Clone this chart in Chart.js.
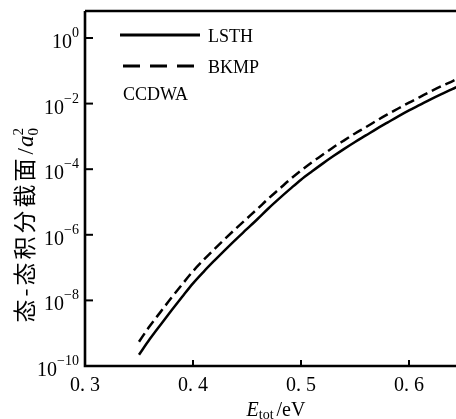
<!DOCTYPE html>
<html>
<head>
<meta charset="utf-8">
<script src="https://cdn.jsdelivr.net/npm/chart.js@4/dist/chart.umd.min.js"></script>
<style>
  html, body { margin: 0; padding: 0; background: #fff; }
  #chartContainer { width: 456px; height: 419px; }
</style>
</head>
<body>
<div id="chartContainer"><canvas id="myChart" width="456" height="419"></canvas></div>
<script>
// values (total energy in eV, cross section in a0^2)
const energy = [0.35, 0.36, 0.37, 0.38, 0.39, 0.40, 0.41, 0.42, 0.43, 0.44, 0.45, 0.46, 0.47, 0.48, 0.49,
  0.50, 0.51, 0.52, 0.53, 0.54, 0.55, 0.56, 0.57, 0.58, 0.59, 0.60, 0.61, 0.62, 0.63, 0.64, 0.645];
const lsth = [2.2e-10, 6.61e-10, 1.82e-9, 4.90e-9, 1.29e-8, 3.31e-8, 7.59e-8, 1.66e-7, 3.55e-7, 7.41e-7,
  1.51e-6, 3.09e-6, 6.46e-6, 1.29e-5, 2.51e-5, 4.79e-5, 8.51e-5, 1.48e-4, 2.51e-4, 4.17e-4,
  6.76e-4, 1.07e-3, 1.70e-3, 2.63e-3, 4.07e-3, 6.17e-3, 9.12e-3, 1.35e-2, 1.95e-2, 2.75e-2, 3.31e-2];
const bkmp = [5.5e-10, 1.66e-9, 4.47e-9, 1.20e-8, 3.09e-8, 7.76e-8, 1.74e-7, 3.72e-7, 7.76e-7, 1.58e-6,
  3.16e-6, 6.31e-6, 1.29e-5, 2.51e-5, 4.90e-5, 9.12e-5, 1.62e-4, 2.75e-4, 4.68e-4, 7.59e-4,
  1.23e-3, 1.91e-3, 3.02e-3, 4.68e-3, 7.08e-3, 1.07e-2, 1.58e-2, 2.34e-2, 3.39e-2, 4.79e-2, 5.75e-2];
const seriesNames = ['LSTH', 'BKMP'];
const xTicks = [0.3, 0.4, 0.5, 0.6];
const xTickLabels = ['0. 3', '0. 4', '0. 5', '0. 6'];
const yTickExps = [0, -2, -4, -6, -8, -10];

const serif = '"Liberation Serif", "Times New Roman", serif';

// axes, ticks, labels and legend are drawn here
const paperPlugin = {
  id: 'paper',
  afterDraw(chart) {
    const ctx = chart.ctx;
    const area = chart.chartArea;
    const xs = chart.scales.x, ys = chart.scales.y;
    ctx.save();
    ctx.strokeStyle = '#000';
    ctx.fillStyle = '#000';
    ctx.lineWidth = 2.6;
    // left axis, bottom axis and top frame
    ctx.beginPath();
    ctx.moveTo(area.left, area.top);
    ctx.lineTo(area.left, area.bottom);
    ctx.lineTo(area.right, area.bottom);
    ctx.moveTo(area.left, area.top);
    ctx.lineTo(area.right, area.top);
    ctx.stroke();

    // x ticks (inside)
    ctx.lineWidth = 2;
    ctx.font = '20px ' + serif;
    ctx.textAlign = 'center';
    ctx.textBaseline = 'alphabetic';
    xTicks.forEach((v, i) => {
      const px = xs.getPixelForValue(v);
      if (i > 0) {
        ctx.beginPath();
        ctx.moveTo(px, area.bottom);
        ctx.lineTo(px, area.bottom - 6);
        ctx.stroke();
      }
      ctx.fillText(xTickLabels[i], px, area.bottom + 25);
    });

    // y ticks (inside) with 10^n labels
    yTickExps.forEach(e => {
      const py = ys.getPixelForValue(Math.pow(10, e));
      if (e !== -10) {
        ctx.beginPath();
        ctx.moveTo(area.left, py);
        ctx.lineTo(area.left + 8, py);
        ctx.stroke();
      }
      const sup = e === 0 ? '0' : '\u2212' + (-e);
      ctx.font = '14px ' + serif;
      const supW = ctx.measureText(sup).width;
      const right = area.left - 6;
      ctx.textAlign = 'left';
      ctx.fillText(sup, right - supW, py - 1);
      ctx.font = '20px ' + serif;
      ctx.textAlign = 'right';
      ctx.fillText('10', right - supW, py + 10);
    });

    // x title: E_tot / eV
    ctx.textAlign = 'left';
    ctx.font = 'italic 20px ' + serif;
    const wE = ctx.measureText('E').width;
    ctx.font = '14px ' + serif;
    const wSub = ctx.measureText('tot').width;
    ctx.font = '20px ' + serif;
    const wRest = ctx.measureText('/eV').width;
    let tx = 276 - (wE + wSub + wRest + 3) / 2;
    const ty = 416;
    ctx.font = 'italic 20px ' + serif;
    ctx.fillText('E', tx, ty);
    tx += wE;
    ctx.font = '14px ' + serif;
    ctx.fillText('tot', tx, ty + 3);
    tx += wSub + 3;
    ctx.font = '20px ' + serif;
    ctx.fillText('/eV', tx, ty);

    // y title, rotated
    ctx.save();
    ctx.translate(33, 224);
    ctx.rotate(-Math.PI / 2);
    const cjk = '态-态积分截面';
    ctx.letterSpacing = '3px';
    ctx.font = '23px "Noto Sans CJK SC", sans-serif';
    const wC = ctx.measureText(cjk).width;
    ctx.letterSpacing = '0px';
    ctx.font = '23px ' + serif;
    const wSl = ctx.measureText('/').width;
    ctx.font = 'italic 23px ' + serif;
    const wA = ctx.measureText('a').width;
    const total = wC + wSl + wA + 12;
    let yx = -total / 2;
    ctx.letterSpacing = '3px';
    ctx.font = '23px "Noto Sans CJK SC", sans-serif';
    ctx.fillText(cjk, yx, 0);
    ctx.letterSpacing = '0px';
    yx += wC + 1;
    ctx.font = '23px ' + serif;
    ctx.fillText('/', yx, 0);
    yx += wSl + 1;
    ctx.font = 'italic 23px ' + serif;
    ctx.fillText('a', yx, 0);
    yx += wA;
    ctx.font = '15px ' + serif;
    ctx.fillText('0', yx, 5);
    ctx.fillText('2', yx, -10);
    ctx.restore();

    // legend
    ctx.lineWidth = 2.8;
    chart.data.datasets.forEach((ds, i) => {
      const ly = 35 + i * 31;
      ctx.setLineDash(i ? [17, 10] : []);
      ctx.beginPath();
      ctx.moveTo(i ? 123 : 120, ly);
      ctx.lineTo(i ? 197 : 200, ly);
      ctx.stroke();
      ctx.setLineDash([]);
      ctx.font = '18px ' + serif;
      ctx.textAlign = 'left';
      ctx.fillText(ds.label, 208, ly + 7);
    });
    ctx.font = '18px ' + serif;
    ctx.fillText('CCDWA', 123, 100);
    ctx.restore();
  }
};

const ctx = document.getElementById('myChart').getContext('2d');
const csChart = new Chart(ctx, {
  type: 'line',
  data: {
    datasets: [{
      label: seriesNames[0],
      data: energy.map((e, i) => ({ x: e, y: lsth[i] })),
      borderColor: '#000',
      borderWidth: 2.5,
      pointRadius: 0,
      cubicInterpolationMode: 'monotone',
      fill: false
    }, {
      label: seriesNames[1],
      data: energy.map((e, i) => ({ x: e, y: bkmp[i] })),
      borderColor: '#000',
      borderWidth: 2.5,
      borderDash: [10, 5],
      pointRadius: 0,
      cubicInterpolationMode: 'monotone',
      fill: false
    }]
  },
  options: {
    responsive: false,
    animation: false,
    layout: { padding: { left: 85, top: 11, right: 0, bottom: 53 } },
    plugins: { legend: { display: false }, tooltip: { enabled: false } },
    scales: {
      x: { type: 'linear', display: false, min: 0.3, max: 0.6435 },
      y: { type: 'logarithmic', display: false, min: 1e-10, max: 6.65 }
    }
  },
  plugins: [paperPlugin]
});
</script>
</body>
</html>
